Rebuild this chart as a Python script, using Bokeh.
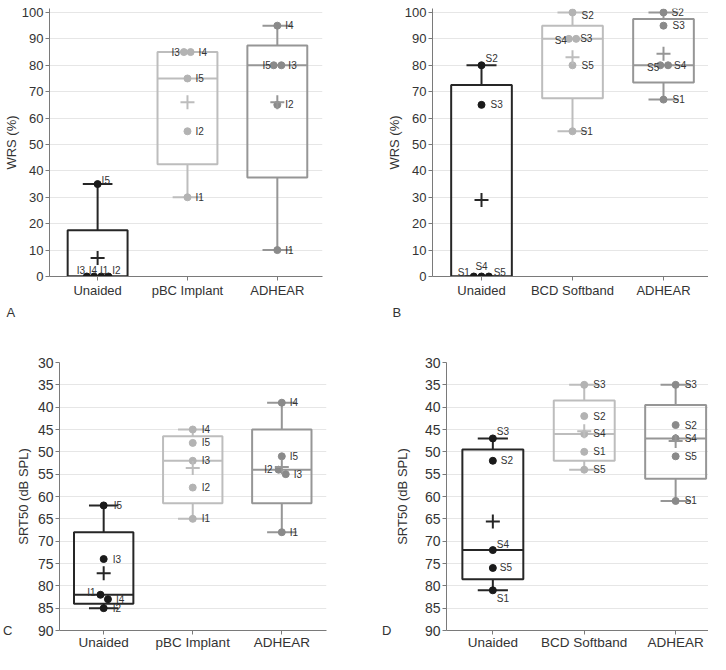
import numpy as np
from bokeh.plotting import figure
from bokeh.models import (Range1d, FixedTicker, ColumnDataSource, LabelSet,
                          LinearAxis)
from bokeh.core.properties import value
from bokeh.layouts import row, column
from bokeh.embed import file_html
from bokeh.resources import INLINE

# ---------------- data ----------------
categories_implant = ["Unaided", "pBC Implant", "ADHEAR"]
categories_softband = ["Unaided", "BCD Softband", "ADHEAR"]
subjects_implant = ["I1", "I2", "I3", "I4", "I5"]
subjects_softband = ["S1", "S2", "S3", "S4", "S5"]
panel_letters = ["A", "B", "C", "D"]

# A: WRS (%), implant users
wrs_implant_unaided = [0, 0, 0, 0, 35]
wrs_implant_pbc = [30, 55, 85, 85, 75]
wrs_implant_adhear = [10, 65, 80, 95, 80]
# B: WRS (%), softband users
wrs_softband_unaided = [0, 80, 65, 0, 0]
wrs_softband_bcd = [55, 100, 90, 90, 80]
wrs_softband_adhear = [67, 100, 95, 80, 80]
# C: SRT50 (dB SPL), implant users
srt_implant_unaided = [82, 85, 74, 83, 62]
srt_implant_pbc = [65, 58, 52, 45, 48]
srt_implant_adhear = [68, 54, 55, 39, 51]
# D: SRT50 (dB SPL), softband users
srt_softband_unaided = [81, 52, 47, 72, 76]
srt_softband_bcd = [50, 42, 35, 46, 54]
srt_softband_adhear = [61, 44, 35, 47, 51]

wrs_ticks = list(range(0, 101, 10))
srt_ticks = list(range(30, 91, 5))

# ---------------- styles ----------------
FONT = "Liberation Sans"
LINE_COLORS = ["#262626", "#bdbdbd", "#969696"]
POINT_COLORS = ["#1a1a1a", "#b3b3b3", "#8a8a8a"]
TEXT_COLOR = "#333333"
C, L, R = "center", "left", "right"

# per point: (dodge in category units, label dx px, label dy px (down +), align)
style_A = [
    [(0.04, 3, -6, C), (0.12, 8, -6, C), (-0.12, -6, -6, C), (-0.04, -1, -6, C), (0, 4, -4, L)],
    [(0, 8, 0, L), (0, 8, 0, L), (-0.04, -4, 0, R), (0.035, 8, 0, L), (0, 8, 0, L)],
    [(0, 8, 0, L), (0, 8, 0, L), (0.045, 7, 0, L), (0, 8, 0, L), (-0.04, -3, 0, R)],
]
style_B = [
    [(-0.085, -10, -4, C), (0, 4, -7, L), (0, 9, 0, L), (0, 0, -10, C), (0.08, 11, -4, C)],
    [(0, 8, 0, L), (0, 9, 3, L), (0.04, 4, 0, L), (-0.04, -2, 2, R), (0, 9, 0, L)],
    [(0, 9, 0, L), (0, 8, 0, L), (0, 9, 0, L), (0.05, 6, 0, L), (-0.035, -1, 2, R)],
]
style_C = [
    [(-0.036, -5, -2, R), (0, 9, 0, L), (0, 9, 0, L), (0.048, 8, 0, L), (0, 10, 0, L)],
    [(0, 9, 0, L)] * 5,
    [(0, 8, 0, L), (-0.036, -6, 0, R), (0.044, 8, 0, L), (0, 8, 0, L), (0, 8, 0, L)],
]
style_D = [
    [(0, 4, 8, L), (0, 8, 0, L), (0, 4, -7, L), (0, 4, -6, L), (0, 7, 0, L)],
    [(0, 9, 0, L)] * 5,
    [(0, 9, 0, L)] * 5,
]


def box_stats(vals):
    v = sorted(vals)
    n = len(v)
    lower = v[: n // 2]
    upper = v[(n + 1) // 2:]
    return (min(v), float(np.median(lower)), float(np.median(v)),
            float(np.median(upper)), max(v), float(np.mean(v)))


def make_panel(cats, groups, subjects, styles, ylabel, yrange, yticks,
               width, height, mb_left, mb_right, mb_top, mb_bottom,
               x_start, spacing, tick_font, cat_font, label_standoff, cat_standoff,
               side_letter=None, side_letter_tick=None, side_letter_standoff=0):
    frame_w = width - mb_left - mb_right
    x_end = x_start + frame_w / spacing
    p = figure(width=width, height=height, output_backend="svg", toolbar_location=None,
               x_range=Range1d(x_start, x_end), y_range=Range1d(*yrange),
               min_border_left=mb_left, min_border_right=mb_right,
               min_border_top=mb_top, min_border_bottom=mb_bottom)
    p.outline_line_color = None
    p.background_fill_color = "white"
    p.border_fill_color = "white"
    p.xgrid.grid_line_color = None
    p.ygrid.grid_line_color = "#e6e6e6"
    p.ygrid.grid_line_width = 1

    p.yaxis.ticker = FixedTicker(ticks=yticks)
    p.xaxis.ticker = FixedTicker(ticks=[1, 2, 3])
    p.xaxis.major_label_overrides = {i + 1: c for i, c in enumerate(cats)}
    for ax in (p.xaxis[0], p.yaxis[0]):
        ax.axis_line_color = "#7a7a7a"
        ax.axis_line_width = 1
        ax.major_tick_line_color = "#7a7a7a"
        ax.major_tick_in = 0
        ax.major_tick_out = 4
        ax.minor_tick_line_color = None
        ax.major_label_text_font = FONT
        ax.major_label_text_color = TEXT_COLOR
        ax.major_label_standoff = 2
        ax.major_label_text_line_height = 1.0
    p.xaxis.major_label_standoff = cat_standoff
    p.yaxis.major_label_text_font_size = tick_font
    p.xaxis.major_label_text_font_size = cat_font
    p.yaxis.axis_label = ylabel
    p.yaxis.axis_label_text_font = FONT
    p.yaxis.axis_label_text_font_size = "13px"
    p.yaxis.axis_label_text_font_style = "normal"
    p.yaxis.axis_label_text_color = TEXT_COLOR
    p.yaxis.axis_label_standoff = label_standoff

    if side_letter is not None:
        la = LinearAxis(ticker=FixedTicker(ticks=[side_letter_tick]),
                        major_label_overrides={side_letter_tick: side_letter},
                        axis_line_color=None, major_tick_line_color=None,
                        minor_tick_line_color=None, major_tick_in=0, major_tick_out=0,
                        major_label_standoff=side_letter_standoff,
                        major_label_text_font=FONT, major_label_text_font_size="13px",
                        major_label_text_color=TEXT_COLOR)
        p.add_layout(la, "left")

    hw = 1 / 3.0
    cw = 0.165
    for gi, vals in enumerate(groups):
        x = gi + 1
        lc = LINE_COLORS[gi]
        pc = POINT_COLORS[gi]
        mn, q1, med, q3, mx, mean = box_stats(vals)
        # whiskers and caps
        p.segment(x0=[x, x], y0=[q3, q1], x1=[x, x], y1=[mx, mn], line_color=lc, line_width=2)
        p.segment(x0=[x - cw, x - cw], y0=[mx, mn], x1=[x + cw, x + cw], y1=[mx, mn],
                  line_color=lc, line_width=2)
        # box and median
        p.quad(left=[x - hw], right=[x + hw], bottom=[q1], top=[q3],
               fill_color=None, line_color=lc, line_width=2)
        p.segment(x0=[x - hw], y0=[med], x1=[x + hw], y1=[med], line_color=lc, line_width=2)
        # individual points
        st = styles[gi]
        xs = [x + s[0] for s in st]
        p.scatter(x=xs, y=vals, size=7, color=pc, line_color=pc)
        # mean
        p.scatter(x=[x], y=[mean], marker="cross", size=14, line_color=lc, line_width=2)
        # subject labels, grouped by alignment
        for al in (C, L, R):
            idx = [k for k, s in enumerate(st) if s[3] == al]
            if not idx:
                continue
            src = ColumnDataSource(dict(
                x=[xs[k] for k in idx], y=[vals[k] for k in idx],
                t=[subjects[k] for k in idx],
                dx=[st[k][1] for k in idx], dy=[-st[k][2] for k in idx]))
            p.add_layout(LabelSet(x="x", y="y", text="t", source=src,
                                  x_offset="dx", y_offset="dy",
                                  text_align=al, text_baseline="middle",
                                  text_font=value(FONT), text_font_size="10px",
                                  text_color=TEXT_COLOR))
    return p


TOP_H = 300
LET_H = 24
BOT_H = 328

pA = make_panel(categories_implant,
                [wrs_implant_unaided, wrs_implant_pbc, wrs_implant_adhear],
                subjects_implant, style_A, "WRS (%)", (0, 101.5), wrs_ticks,
                355, TOP_H, 44, 33, 8, 22, 0.4645, 91.5, "13px", "13px", 0, 2)
pB = make_panel(categories_softband,
                [wrs_softband_unaided, wrs_softband_bcd, wrs_softband_adhear],
                subjects_softband, style_B, "WRS (%)", (0, 101.5), wrs_ticks,
                353, TOP_H, 77, 0, 8, 22, 0.4615, 91.0, "13px", "13px", 0, 2)

# letters A and B sit below the top row
letters = figure(width=708, height=LET_H, output_backend="svg", toolbar_location=None,
                 x_range=Range1d(0, 708), y_range=Range1d(LET_H, 0),
                 x_axis_type=None, y_axis_type=None,
                 min_border_left=0, min_border_right=0, min_border_top=0, min_border_bottom=0)
letters.outline_line_color = None
letters.grid.visible = False
letters.text(x=[44 - 38, 355 + 77 - 40], y=[12, 12], text=panel_letters[:2],
             text_font=value(FONT), text_font_size="13px", text_color=TEXT_COLOR,
             text_align="left", text_baseline="middle")

pC = make_panel(categories_implant,
                [srt_implant_unaided, srt_implant_pbc, srt_implant_adhear],
                subjects_implant, style_C, "SRT50 (dB SPL)", (90, 30), srt_ticks,
                355, BOT_H, 52, 29, 38, 22, 0.504, 91.4, "14px", "13.5px", 4, 0,
                side_letter=panel_letters[2], side_letter_tick=90, side_letter_standoff=0)
pD = make_panel(categories_softband,
                [srt_softband_unaided, srt_softband_bcd, srt_softband_adhear],
                subjects_softband, style_D, "SRT50 (dB SPL)", (90, 30), srt_ticks,
                353, BOT_H, 91, 0, 38, 22, 0.493, 91.4, "14px", "13.5px", 12, 0,
                side_letter=panel_letters[3], side_letter_tick=90, side_letter_standoff=0)

layout = column(row(pA, pB), letters, row(pC, pD))
open("out.html", "w").write(file_html(layout, INLINE))
